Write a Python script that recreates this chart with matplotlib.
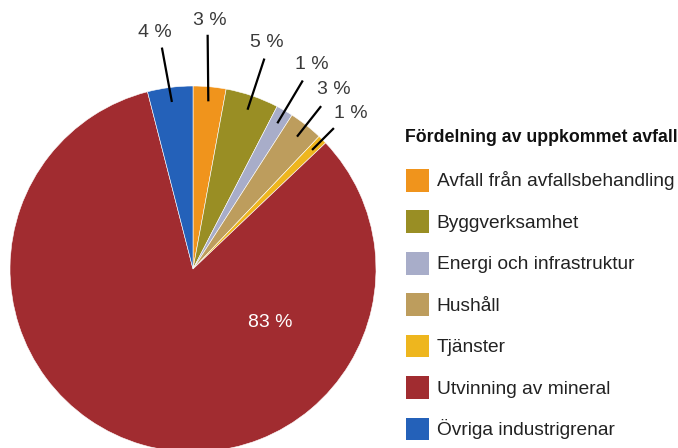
import matplotlib
matplotlib.use("Agg")
import matplotlib.pyplot as plt
import numpy as np

categories = ["Avfall från avfallsbehandling", "Byggverksamhet", "Energi och infrastruktur",
              "Hushåll", "Tjänster", "Utvinning av mineral", "Övriga industrigrenar"]
values = [2.9, 4.7, 1.5, 3.0, 0.8, 83.1, 4.0]
pct_labels = ["3 %", "5 %", "1 %", "3 %", "1 %", "83 %", "4 %"]
legend_title = "Fördelning av uppkommet avfall"
colors = ["#F0941C", "#998E24", "#A8ADC9", "#BD9D5D", "#EEB61E", "#A12C30", "#2461B9"]

plt.rcParams['font.family'] = ['Liberation Sans', 'DejaVu Sans']

W, H = 678, 448
fig = plt.figure(figsize=(W / 100, H / 100), dpi=100)
ax = fig.add_axes([0, 0, 1, 1])
R = 183.0
cx, cy = 193.0, H - 269.0

wedges, _ = ax.pie(values, colors=colors, startangle=90, counterclock=False, radius=1.0,
                   wedgeprops=dict(edgecolor="white", linewidth=0.4))
ax.set_aspect('auto')
ax.set_xlim(-cx / R, (W - cx) / R)
ax.set_ylim(-cy / R, (H - cy) / R)
ax.axis('off')

# label positions (line outer end, text center) in radius units
outer_pts = {0: (0.08, 1.28), 1: (0.39, 1.15), 2: (0.60, 1.03), 3: (0.70, 0.89),
             4: (0.77, 0.77), 6: (-0.17, 1.21)}
text_pts = {0: (0.09, 1.36), 1: (0.405, 1.24), 2: (0.65, 1.115), 3: (0.77, 0.98),
            4: (0.86, 0.85), 6: (-0.21, 1.295)}

for i, w in enumerate(wedges):
    ang = np.deg2rad((w.theta1 + w.theta2) / 2)
    if i == 5:
        ax.text(0.42, -0.29, pct_labels[i], color="white", fontsize=14,
                ha="center", va="center")
        continue
    x0, y0 = 0.92 * np.cos(ang), 0.92 * np.sin(ang)
    ox, oy = outer_pts[i]
    ax.plot([x0, ox], [y0, oy], color="black", lw=1.6, solid_capstyle="butt")
    tx, ty = text_pts[i]
    ax.text(tx, ty, pct_labels[i], color="#3a3a3a", fontsize=14, ha="center", va="center")

fig.text(405 / W, 1 - 137 / H, legend_title, fontsize=12.8, fontweight="bold",
         color="#111111", ha="left", va="center")

leg = fig.legend(wedges, categories, loc="upper left",
                 bbox_to_anchor=(398 / W, 1 - 161 / H), frameon=False,
                 fontsize=13.8, handlelength=1.2, handleheight=1.46, handletextpad=0.42,
                 labelspacing=0.97, borderaxespad=0)
for p in leg.get_patches():
    p.set_edgecolor("none")
for t in leg.get_texts():
    t.set_color("#222222")

fig.savefig("out.png", dpi=100)
